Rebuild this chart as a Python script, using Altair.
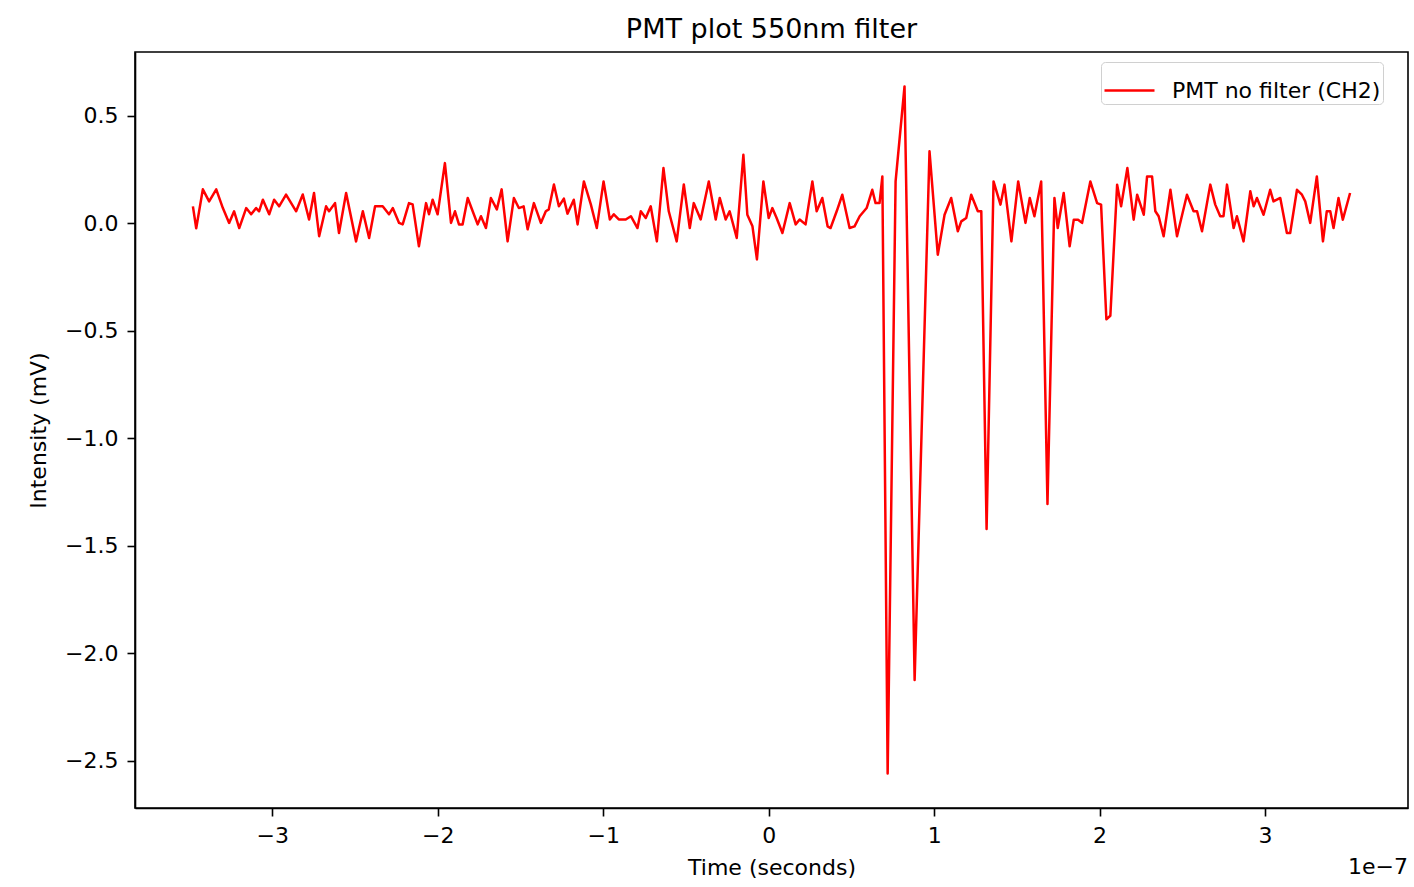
import altair as alt
import pandas as pd

# Oscilloscope capture, PMT channel 2 (time in units of 1e-7 s, intensity in mV)
time_e7 = [
    -3.480, -3.460, -3.420, -3.382, -3.339, -3.299, -3.261, -3.231, -3.200, -3.158,
    -3.128, -3.098, -3.080, -3.057, -3.019, -2.989, -2.959, -2.917, -2.886, -2.856,
    -2.816, -2.778, -2.748, -2.717, -2.675, -2.657, -2.621, -2.597, -2.554, -2.494,
    -2.453, -2.415, -2.379, -2.333, -2.295, -2.272, -2.234, -2.212, -2.174, -2.152,
    -2.114, -2.071, -2.053, -2.031, -2.001, -1.957, -1.920, -1.896, -1.872, -1.850,
    -1.819, -1.789, -1.759, -1.739, -1.709, -1.679, -1.643, -1.614, -1.578, -1.540,
    -1.510, -1.481, -1.457, -1.419, -1.377, -1.347, -1.329, -1.298, -1.268, -1.238,
    -1.216, -1.178, -1.155, -1.117, -1.075, -1.039, -0.998, -0.960, -0.936, -0.906,
    -0.864, -0.833, -0.793, -0.773, -0.743, -0.713, -0.676, -0.636, -0.604, -0.556,
    -0.513, -0.477, -0.453, -0.411, -0.362, -0.320, -0.296, -0.260, -0.236, -0.193,
    -0.153, -0.129, -0.098, -0.071, -0.032, 0.000, 0.022, 0.048, 0.083, 0.127,
    0.163, 0.187, 0.223, 0.264, 0.290, 0.324, 0.356, 0.374, 0.411, 0.445,
    0.489, 0.519, 0.550, 0.592, 0.626, 0.646, 0.670, 0.687, 0.719, 0.767,
    0.821, 0.882, 0.972, 1.022, 1.063, 1.103, 1.143, 1.164, 1.194, 1.224,
    1.264, 1.285, 1.317, 1.359, 1.401, 1.425, 1.467, 1.508, 1.552, 1.578,
    1.606, 1.647, 1.685, 1.727, 1.747, 1.783, 1.819, 1.844, 1.870, 1.894,
    1.944, 1.985, 2.009, 2.041, 2.065, 2.106, 2.130, 2.168, 2.206, 2.227,
    2.267, 2.287, 2.317, 2.337, 2.357, 2.387, 2.428, 2.468, 2.528, 2.568,
    2.589, 2.619, 2.669, 2.699, 2.729, 2.749, 2.770, 2.810, 2.830, 2.870,
    2.911, 2.931, 2.951, 2.991, 3.031, 3.051, 3.092, 3.132, 3.152, 3.193,
    3.223, 3.243, 3.273, 3.313, 3.350, 3.373, 3.394, 3.414, 3.444, 3.470,
    3.514,
]

intensity_mv = [
    0.079, -0.023, 0.158, 0.102, 0.158, 0.071, 0.002, 0.056, -0.022, 0.071,
    0.042, 0.071, 0.056, 0.110, 0.042, 0.110, 0.079, 0.134, 0.094, 0.056,
    0.134, 0.018, 0.141, -0.060, 0.079, 0.056, 0.094, -0.045, 0.141, -0.084,
    0.056, -0.068, 0.079, 0.079, 0.042, 0.071, 0.002, -0.005, 0.094, 0.088,
    -0.107, 0.094, 0.042, 0.110, 0.042, 0.280, 0.002, 0.056, -0.005, -0.005,
    0.118, 0.056, -0.005, 0.033, -0.022, 0.118, 0.065, 0.158, -0.084, 0.118,
    0.071, 0.079, -0.028, 0.094, 0.002, 0.056, 0.065, 0.181, 0.079, 0.115,
    0.045, 0.110, -0.005, 0.195, 0.088, -0.022, 0.195, 0.018, 0.042, 0.018,
    0.018, 0.033, -0.022, 0.056, 0.025, 0.079, -0.084, 0.257, 0.056, -0.084,
    0.181, -0.022, 0.094, 0.018, 0.195, 0.018, 0.118, 0.018, 0.056, -0.068,
    0.319, 0.040, -0.014, -0.168, 0.195, 0.025, 0.071, 0.025, -0.045, 0.094,
    -0.005, 0.018, -0.005, 0.195, 0.056, 0.118, -0.014, -0.022, 0.056, 0.133,
    -0.022, -0.014, 0.033, 0.071, 0.156, 0.094, 0.094, 0.218, -2.560, 0.195,
    0.637, -2.124, 0.335, -0.146, 0.040, 0.118, -0.037, 0.009, 0.025, 0.133,
    0.056, 0.056, -1.422, 0.195, 0.087, 0.180, -0.084, 0.195, 0.002, 0.118,
    0.033, 0.195, -1.306, 0.118, -0.022, 0.141, -0.107, 0.017, 0.017, 0.002,
    0.195, 0.094, 0.087, -0.446, -0.430, 0.180, 0.079, 0.257, 0.017, 0.133,
    0.040, 0.218, 0.218, 0.056, 0.033, -0.060, 0.156, -0.060, 0.133, 0.056,
    0.056, -0.037, 0.180, 0.087, 0.033, 0.033, 0.180, -0.022, 0.033, -0.084,
    0.149, 0.079, 0.118, 0.040, 0.156, 0.102, 0.118, -0.045, -0.045, 0.156,
    0.133, 0.102, 0.002, 0.218, -0.084, 0.056, 0.056, -0.022, 0.118, 0.017,
    0.141,
]

series_name = "PMT no filter (CH2)"
x_ticks = [-3, -2, -1, 0, 1, 2, 3]
y_ticks = [0.5, 0.0, -0.5, -1.0, -1.5, -2.0, -2.5]

df = pd.DataFrame({
    "t": time_e7,
    "v": intensity_mv,
    "series": [series_name] * len(time_e7),
})

FONT = "DejaVu Sans"
W, H = 1273, 756

line = alt.Chart(df).mark_line(
    strokeWidth=2.5, strokeJoin="round", clip=True
).encode(
    x=alt.X(
        "t:Q",
        scale=alt.Scale(domain=[-3.830, 3.864], nice=False, zero=False),
        axis=alt.Axis(
            title="Time (seconds)", values=x_ticks, format="d",
            grid=False, tickSize=8, tickWidth=1.6, labelPadding=9,
            titlePadding=11,
        ),
    ),
    y=alt.Y(
        "v:Q",
        scale=alt.Scale(domain=[-2.72, 0.797], nice=False, zero=False),
        axis=alt.Axis(
            title="Intensity (mV)", values=y_ticks, format=".1f",
            grid=False, tickSize=8, tickWidth=1.6, labelPadding=9,
            titlePadding=14,
        ),
    ),
    color=alt.Color(
        "series:N",
        scale=alt.Scale(domain=[series_name], range=["#ff0000"]),
        legend=alt.Legend(
            title=None, orient="none", legendX=966, legendY=10,
            symbolType="stroke", symbolSize=2500, symbolStrokeWidth=2.5,
            labelFontSize=22, labelFont=FONT, labelColor="#000000",
            labelLimit=500, labelOffset=16, padding=2, cornerRadius=4,
            strokeColor="#d0d0d0", fillColor="#ffffff",
        ),
    ),
)

# scale multiplier shown at the bottom-right of the x axis
offset_text = alt.Chart(pd.DataFrame({"txt": ["1e\u22127"]})).mark_text(
    align="right", baseline="middle", fontSize=22, font=FONT, color="#000000"
).encode(
    x=alt.value(W), y=alt.value(H + 59), text="txt:N"
)

chart = alt.layer(line, offset_text).properties(
    width=W,
    height=H,
    background="#ffffff",
    title=alt.TitleParams(
        "PMT plot 550nm filter", fontSize=27, font=FONT,
        fontWeight="normal", color="#000000", offset=8,
    ),
    autosize=alt.AutoSizeParams(type="none"),
    padding={"left": 135, "top": 52, "right": 6, "bottom": 79},
).configure_view(
    stroke="#000000", strokeWidth=1.6
).configure_axis(
    labelFont=FONT, titleFont=FONT, labelFontSize=22, titleFontSize=22,
    labelColor="#000000", titleColor="#000000", titleFontWeight="normal",
    domainColor="#000000", domainWidth=1.6, tickColor="#000000",
)

chart.save("out.html", embed_options={"renderer": "svg", "actions": False})
